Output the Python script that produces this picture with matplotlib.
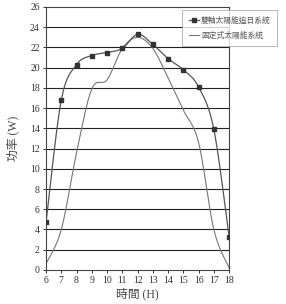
import matplotlib
matplotlib.use("Agg")
import matplotlib.pyplot as plt
import numpy as np

hours = [6, 7, 8, 9, 10, 11, 12, 13, 14, 15, 16, 17, 18]
tracking = [4.7, 16.8, 20.3, 21.2, 21.5, 21.9, 23.3, 22.3, 20.9, 19.8, 18.1, 13.9, 3.3]
fixed = [0.6, 4.0, 11.6, 17.9, 18.8, 21.9, 23.0, 21.9, 19.0, 15.8, 12.6, 4.0, 0.2]
label_tracking = "雙軸太陽能追日系統"
label_fixed = "固定式太陽能系統"

CJK = ["Liberation Serif", "Noto Sans CJK TC"]


def smooth(x, y, n=20):
    # Catmull-Rom style smoothing (like a spreadsheet "smoothed line")
    x = np.asarray(x, float)
    y = np.asarray(y, float)
    px = np.concatenate([[x[0]], x, [x[-1]]])
    py = np.concatenate([[y[0]], y, [y[-1]]])
    xs, ys = [], []
    t = np.linspace(0, 1, n, endpoint=False)
    for i in range(1, len(px) - 2):
        p0, p1, p2, p3 = (np.array([px[j], py[j]]) for j in (i - 1, i, i + 1, i + 2))
        c1 = p1 + (p2 - p0) / 6
        c2 = p2 - (p3 - p1) / 6
        pts = ((1 - t) ** 3)[:, None] * p1 + (3 * (1 - t) ** 2 * t)[:, None] * c1 \
            + (3 * (1 - t) * t ** 2)[:, None] * c2 + (t ** 3)[:, None] * p2
        xs.extend(pts[:, 0])
        ys.extend(pts[:, 1])
    xs.append(x[-1])
    ys.append(y[-1])
    return xs, ys


fig = plt.figure(figsize=(2.86, 3.04), dpi=100)
ax = fig.add_axes([0.161, 0.112, 0.64, 0.865])

for v in range(2, 26, 2):
    ax.axhline(v, color="#222222", lw=0.8, zorder=1)

sx, sy = smooth(hours, fixed)
l2, = ax.plot(sx, sy, color="#777777", lw=0.8, zorder=2)
sx, sy = smooth(hours, tracking)
ax.plot(sx, sy, color="#555555", lw=0.9, zorder=3)
ax.plot(hours, tracking, ls="none", marker="s", ms=2.8, color="#333333", zorder=4)
l1, = ax.plot([], [], color="#555555", lw=0.9, marker="s", ms=2.5, mfc="#333333", mec="#333333")

ax.set_xlim(6, 18)
ax.set_ylim(0, 26)
ax.set_xticks(hours)
ax.set_yticks(range(0, 27, 2))
ax.tick_params(direction="out", length=2.5, width=0.7, labelsize=7, pad=2, colors="#333333")
for lab in ax.get_xticklabels() + ax.get_yticklabels():
    lab.set_family("Liberation Serif")
for s in ax.spines.values():
    s.set_color("#444444")
    s.set_linewidth(0.8)

ax.set_xlabel("時間 (H)", family=CJK, fontsize=8.5, color="#444444", labelpad=2)
ax.set_ylabel("功率 (W)", family=CJK, fontsize=8.5, color="#444444", labelpad=8)

leg = fig.legend([l1, l2], [label_tracking, label_fixed],
                 loc="upper left", bbox_to_anchor=(0.638, 0.966),
                 prop={"family": CJK, "size": 5.6}, frameon=True, fancybox=False,
                 handlelength=1.3, handletextpad=0.3, borderpad=0.8,
                 labelspacing=0.9, borderaxespad=0)
for txt in leg.get_texts():
    txt.set_color("#555555")
leg.get_frame().set_edgecolor("#999999")
leg.get_frame().set_linewidth(0.6)
leg.set_zorder(10)

fig.savefig("out.png", dpi=100)
plt.close(fig)
